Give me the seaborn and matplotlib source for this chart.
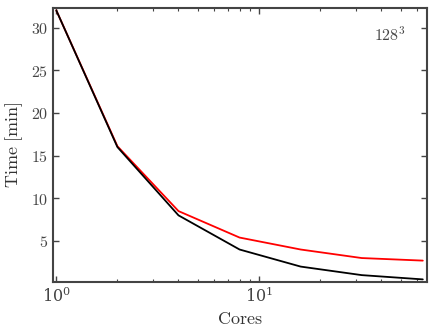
import numpy as np
import pandas as pd
import seaborn as sns
import matplotlib
matplotlib.use("Agg")
import matplotlib.pyplot as plt
from matplotlib.ticker import FuncFormatter

# --- data ---
cores = [1, 2, 4, 8, 16, 32, 64]
time_measured = [32.0, 16.1, 8.5, 5.4, 4.0, 3.0, 2.7]
time_ideal = [32.0, 16.0, 8.0, 4.0, 2.0, 1.0, 0.5]
series_names = ["measured", "ideal"]
series_colors = ["red", "black"]

df = pd.DataFrame({
    "cores": cores * 2,
    "time": time_measured + time_ideal,
    "series": [series_names[0]] * len(cores) + [series_names[1]] * len(cores),
})

sns.set_style("ticks")
plt.rcParams["font.family"] = ["DejaVu Serif"]
plt.rcParams["mathtext.fontset"] = "cm"

fig = plt.figure(figsize=(4.36, 3.29), dpi=100)
ax = fig.add_axes([0.122, 0.143, 0.857, 0.833])

sns.lineplot(data=df, x="cores", y="time", hue="series", hue_order=series_names,
             palette=series_colors, linewidth=1.3, legend=False, ax=ax)

ax.set_xscale("log")
ax.set_xlim(0.965, 67)
ax.set_ylim(0.2, 32.3)
ax.set_yticks([5, 10, 15, 20, 25, 30])
ax.yaxis.set_major_formatter(FuncFormatter(lambda v, p: r"$\mathrm{%d}$" % v))

ax.set_xlabel(r"$\mathrm{Cores}$", fontsize=13, color="#333333", labelpad=3)
ax.set_ylabel(r"$\mathrm{Time\ [min]}$", fontsize=13, color="#333333")
ax.text(0.945, 0.9, r"$128^3$", transform=ax.transAxes, ha="right", va="center",
        fontsize=11.5, color="#444444")

ax.tick_params(which="both", direction="in", top=True, right=True,
               labelsize=11.5, colors="#444444")
ax.tick_params(which="major", length=4, width=1)
ax.tick_params(which="minor", length=2.5, width=0.8)
for s in ax.spines.values():
    s.set_linewidth(1.5)
    s.set_color("#444444")

fig.savefig("out.png", dpi=100)
